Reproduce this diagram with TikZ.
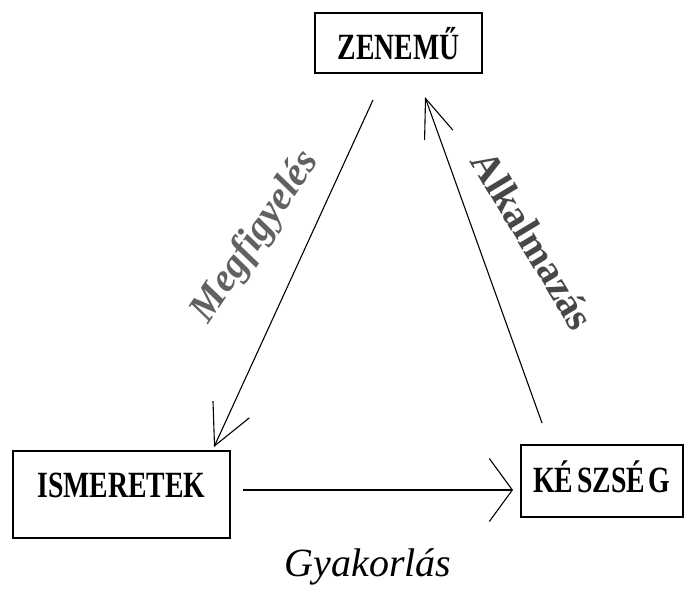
\documentclass[tikz,border=0pt]{standalone}
\usepackage{fontspec}
\setmainfont{Liberation Serif}
\usepackage{graphicx}
\usetikzlibrary{arrows.meta}
\begin{document}
\begin{tikzpicture}[x=1pt,y=-1pt,
  box/.style={draw, line width=1.8pt, inner sep=0pt, anchor=north west,
    font=\fontsize{37}{40}\selectfont\bfseries},
  conn/.style={line width=1.1pt},
  lbl/.style={text=black!62, inner sep=0pt, font=\fontsize{40}{44}\selectfont\bfseries}]
\useasboundingbox (0,0) rectangle (684,593);
% boxes
\node[box, minimum width=167pt, text height=47pt, text depth=13pt] (zen) at (314,12)
  {\scalebox{0.75}[1]{ZENEMŰ}};
\node[box, minimum width=217pt, text height=47pt, text depth=40pt] (ism) at (12,450)
  {\scalebox{0.75}[1]{ISMERETEK}};
\node[box, minimum width=162pt, text height=48pt, text depth=24pt] (kesz) at (520,444)
  {\scalebox{0.75}[1]{KÉ\kern5pt SZSÉ\kern5pt G}};
% connector ends
\coordinate (mA) at (373,100);
\coordinate (mB) at (214,447);
\coordinate (aA) at (542,423);
\coordinate (aB) at (425,97);
\coordinate (gA) at (243,490);
\coordinate (gB) at (513,490);
% connectors
\draw[conn, -{Straight Barb[length=40pt,width=40pt]}] (mA) -- (mB);
\draw[conn, -{Straight Barb[length=39pt,width=30pt]}] (aA) -- (aB);
\draw[conn, -{Straight Barb[length=23pt,width=63pt]}] (gA) -- (gB);
% labels
\node[lbl, font=\fontsize{40}{44}\selectfont\bfseries\itshape, rotate=56] (megf) at (256,237) {Megfigyelés};
\node[lbl, text=black!72, rotate=-59] (alk) at (533,240) {Alkalmazás};
\node[font=\fontsize{40}{44}\selectfont\itshape, anchor=base] (gyak) at (368,576) {Gyakorlás};
\end{tikzpicture}
\end{document}
